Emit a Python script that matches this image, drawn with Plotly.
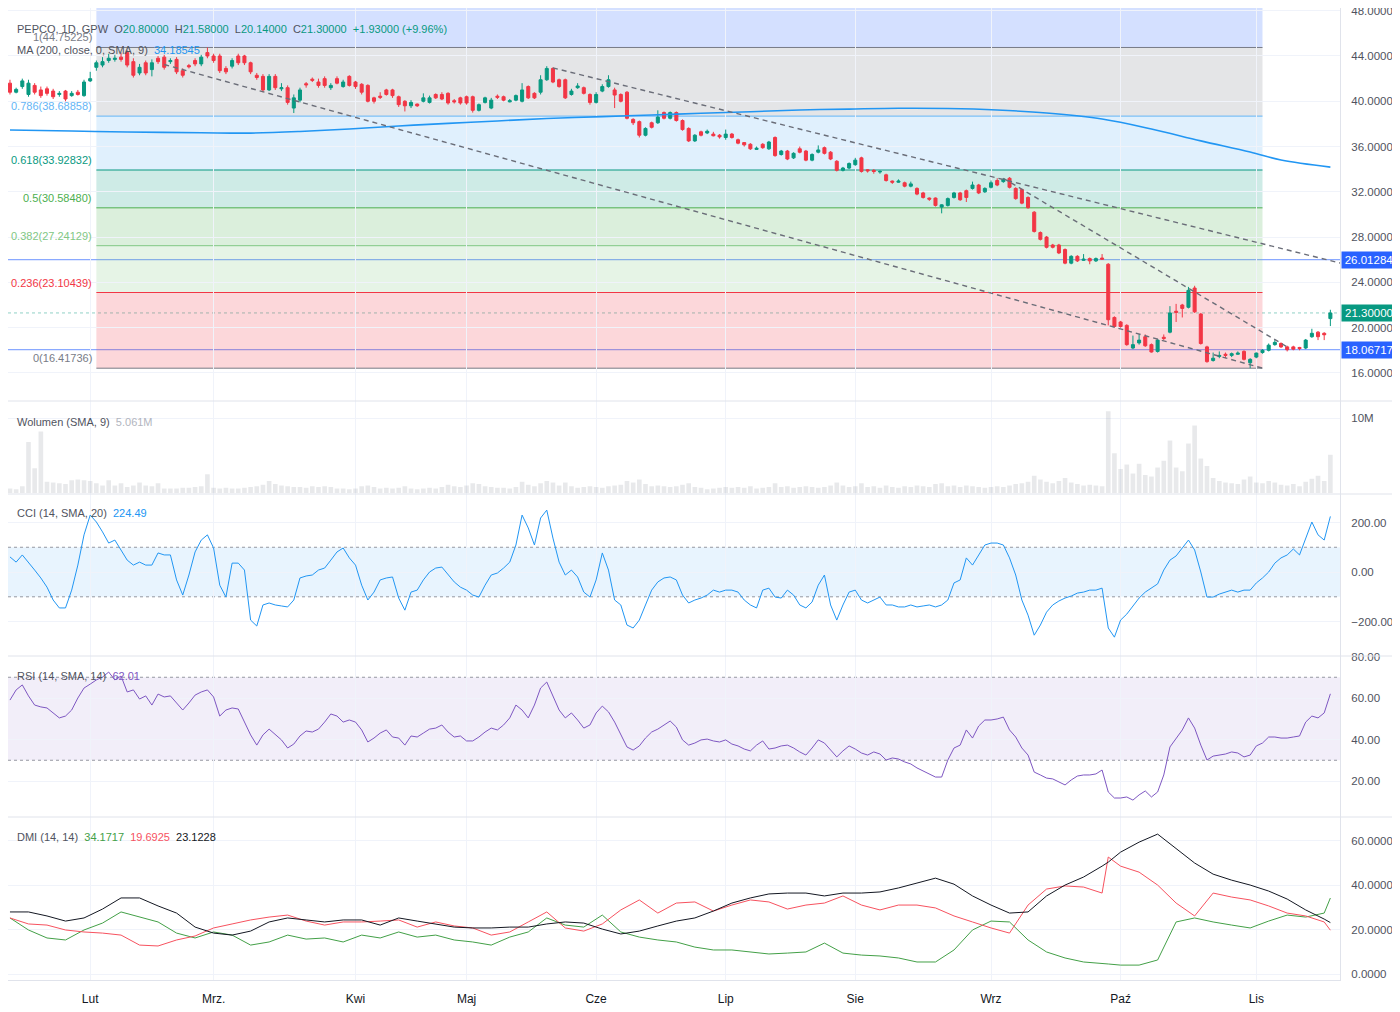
import pandas as pd
import plotly.graph_objects as go
from plotly.subplots import make_subplots

# ---------------- data ----------------
HOLIDAYS = ["2023-04-07", "2023-04-10", "2023-05-01", "2023-05-03",
            "2023-06-08", "2023-08-15", "2023-11-01"]
DATES = [d.strftime("%Y-%m-%d") for d in pd.bdate_range("2023-01-13", "2023-11-20")
         if d.strftime("%Y-%m-%d") not in HOLIDAYS]

MONTH_KEYS = ["2023-02", "2023-03", "2023-04", "2023-05", "2023-06",
              "2023-07", "2023-08", "2023-09", "2023-10", "2023-11"]
MONTH_LABELS = ["Lut", "Mrz.", "Kwi", "Maj", "Cze", "Lip", "Sie", "Wrz", "Paź", "Lis"]

OPEN = [41.6, 40.8, 41.3, 40.6, 41.4, 41.0, 41.1, 40.9, 40.6, 40.9,
        40.5, 40.8, 40.5, 41.8, 43.0, 43.2, 43.6, 43.7, 43.9, 44.3,
        43.5, 42.5, 43.4, 42.8, 43.8, 43.9, 43.5, 43.7, 42.7, 43.15,
        43.6, 43.3, 44.3, 44.0, 44.0, 42.9, 43.1, 44.0, 44.0, 43.4,
        42.3, 42.2, 41.0, 42.2, 41.1, 41.2, 39.4, 40.1, 41.55, 41.95,
        41.7, 42.0, 41.2, 42.0, 41.3, 42.2, 41.7, 41.5, 41.4, 40.3,
        40.45, 41.0, 41.0, 40.4, 40.0, 39.6, 39.75, 40.0, 39.9, 40.6,
        40.6, 40.7, 40.05, 40.3, 40.4, 40.4, 39.2, 39.9, 39.4, 40.45,
        40.4, 39.95, 40.1, 40.0, 41.3, 40.7, 40.8, 41.9, 42.9, 41.9,
        41.9, 40.6, 41.2, 41.2, 40.6, 39.9, 40.9, 41.3, 41.0, 40.6,
        40.8, 38.4, 38.2, 37.0, 38.1, 38.1, 39.0, 38.5, 39.0, 38.3,
        37.6, 36.5, 37.3, 37.2, 37.1, 37.0, 36.8, 37.1, 36.6, 36.35,
        36.2, 35.75, 36.2, 35.8, 36.8, 35.3, 35.6, 35.0, 35.8, 35.6,
        34.8, 35.5, 35.9, 35.5, 34.7, 33.9, 34.1, 34.4, 35.0, 33.95,
        33.9, 33.75, 33.5, 32.95, 32.85, 32.8, 32.5, 32.3, 31.9, 31.45,
        31.45, 30.65, 30.8, 31.5, 31.9, 32.1, 32.3, 32.6, 32.0, 32.4,
        33.0, 32.9, 33.2, 32.3, 32.2, 31.5, 30.2, 28.4, 28.0, 27.3,
        27.3, 26.9, 25.7, 26.3, 25.95, 26.1, 25.9, 26.15, 25.6, 20.9,
        20.5, 20.2, 18.2, 18.65, 19.2, 18.5, 17.9, 19.15, 19.6, 21.45,
        22.0, 21.8, 23.5, 21.2, 18.3, 17.1, 17.45, 17.65, 17.55, 17.65,
        17.9, 16.9, 17.4, 17.8, 18.0, 18.5, 18.6, 18.3, 18.3, 18.25,
        18.2, 19.2, 19.6, 19.5, 20.8]

HIGH = [41.9, 41.2, 42.0, 41.9, 41.6, 41.3, 41.3, 41.1, 40.9, 41.0,
        40.9, 41.0, 41.9, 42.6, 43.6, 43.9, 44.2, 44.1, 44.3, 44.5,
        43.8, 43.3, 43.6, 43.7, 44.0, 44.1, 43.8, 43.9, 42.9, 43.3,
        43.8, 44.1, 44.75, 44.2, 44.2, 43.1, 43.8, 44.2, 44.1, 43.5,
        42.5, 42.4, 42.4, 42.4, 41.6, 41.4, 40.6, 41.2, 41.7, 42.1,
        42.0, 42.2, 41.6, 42.2, 41.9, 42.3, 41.8, 41.6, 41.5, 40.4,
        40.8, 41.1, 41.1, 40.5, 40.1, 40.1, 39.8, 40.7, 40.5, 40.7,
        40.8, 40.8, 40.2, 40.4, 40.5, 40.5, 39.8, 40.4, 40.3, 40.6,
        40.5, 40.2, 40.6, 41.6, 41.4, 40.8, 42.3, 43.1, 43.0, 42.0,
        42.0, 41.1, 41.6, 41.3, 40.7, 40.8, 41.5, 42.3, 41.2, 40.7,
        40.9, 38.5, 38.3, 37.7, 38.2, 39.2, 39.1, 39.1, 39.1, 38.4,
        37.7, 37.1, 37.4, 37.5, 37.3, 37.1, 37.5, 37.2, 36.7, 36.4,
        36.3, 36.0, 36.3, 36.5, 36.9, 35.7, 35.7, 35.5, 36.0, 35.7,
        35.4, 36.1, 36.0, 35.6, 34.8, 34.2, 34.6, 35.0, 35.1, 34.0,
        34.0, 33.9, 33.6, 33.0, 33.1, 32.9, 32.9, 32.4, 32.0, 31.5,
        31.5, 30.9, 31.5, 32.0, 32.0, 32.2, 32.9, 32.7, 32.4, 33.0,
        33.2, 33.2, 33.3, 32.4, 32.3, 31.6, 30.3, 28.5, 28.1, 27.4,
        27.4, 27.0, 26.4, 26.4, 26.5, 26.2, 26.2, 26.5, 25.7, 21.0,
        20.6, 20.3, 19.3, 19.4, 19.4, 18.6, 19.0, 19.4, 21.9, 22.1,
        22.1, 23.6, 23.7, 21.3, 18.4, 17.8, 17.9, 17.8, 17.8, 17.9,
        18.0, 17.3, 17.8, 18.1, 18.6, 18.9, 18.7, 18.4, 18.4, 18.3,
        19.0, 19.9, 19.7, 19.6, 21.58]

LOW = [40.6, 40.7, 41.1, 40.4, 40.6, 40.3, 40.5, 40.2, 40.4, 40.0,
       40.4, 40.5, 40.4, 41.7, 42.7, 43.0, 43.4, 43.5, 43.5, 43.0,
       42.1, 42.3, 42.3, 42.2, 43.3, 42.8, 43.3, 42.4, 42.1, 42.9,
       43.1, 43.1, 43.8, 43.4, 42.5, 42.4, 42.9, 43.2, 43.2, 42.4,
       41.9, 40.8, 40.9, 41.0, 40.9, 39.7, 38.96, 39.9, 41.2, 41.7,
       41.2, 41.2, 41.0, 41.5, 41.2, 41.3, 41.1, 40.6, 39.9, 39.8,
       40.2, 40.5, 40.3, 39.5, 39.1, 39.4, 39.5, 39.9, 39.8, 40.2,
       40.1, 39.7, 39.8, 39.7, 39.7, 39.0, 39.1, 39.8, 39.3, 40.2,
       40.0, 39.9, 40.0, 39.9, 40.2, 40.2, 40.6, 41.8, 41.6, 41.2,
       40.2, 40.5, 41.1, 40.6, 39.7, 39.8, 40.8, 41.2, 39.4, 39.9,
       38.4, 37.9, 36.8, 36.9, 37.6, 38.0, 38.4, 38.4, 38.2, 37.4,
       36.4, 36.4, 36.9, 37.1, 36.9, 36.7, 36.6, 36.7, 36.2, 36.0,
       35.7, 35.7, 35.8, 35.7, 35.1, 35.2, 34.8, 34.9, 35.4, 34.7,
       34.7, 35.4, 35.3, 34.8, 33.8, 33.8, 34.0, 34.3, 33.7, 33.7,
       33.6, 33.6, 32.9, 32.7, 32.8, 32.4, 32.4, 31.7, 31.4, 31.2,
       30.7, 30.1, 30.7, 31.4, 31.2, 31.1, 32.2, 31.8, 31.9, 32.3,
       32.5, 32.8, 32.3, 31.3, 30.9, 30.5, 28.4, 27.7, 27.0, 27.0,
       26.5, 25.6, 25.6, 25.8, 25.9, 25.6, 25.8, 26.0, 20.2, 20.0,
       20.0, 18.4, 18.1, 18.5, 18.3, 17.8, 17.8, 18.9, 19.5, 20.5,
       20.9, 21.7, 21.3, 18.5, 16.9, 17.0, 17.3, 17.3, 17.4, 17.6,
       17.1, 16.42, 17.3, 17.7, 17.9, 18.4, 18.2, 17.9, 18.0, 18.0,
       18.1, 19.1, 18.9, 18.9, 20.14]

CLOSE = [40.8, 41.05, 41.8, 41.6, 40.8, 40.5, 40.7, 40.4, 40.7, 40.2,
         40.7, 40.6, 41.7, 42.0, 43.4, 43.5, 43.8, 43.8, 43.7, 43.2,
         42.3, 43.0, 42.5, 43.4, 43.5, 43.0, 43.6, 42.6, 42.3, 43.05,
         43.3, 43.9, 44.0, 43.6, 42.7, 42.6, 43.6, 43.4, 43.4, 42.6,
         42.1, 41.0, 42.2, 41.2, 41.2, 39.9, 40.3, 41.0, 41.45, 41.85,
         41.4, 41.4, 41.4, 41.6, 41.7, 41.4, 41.3, 40.8, 40.0, 40.0,
         40.35, 40.6, 40.5, 39.7, 39.6, 39.9, 39.6, 40.3, 40.3, 40.3,
         40.2, 39.85, 39.95, 39.85, 39.85, 39.2, 39.7, 40.3, 40.1, 40.35,
         40.1, 40.05, 40.5, 41.0, 40.3, 40.3, 41.9, 42.9, 41.7, 41.3,
         40.3, 40.9, 41.35, 40.7, 39.9, 40.6, 41.3, 41.9, 40.55, 40.0,
         38.5, 38.1, 37.0, 37.6, 37.7, 38.6, 38.5, 39.0, 38.3, 37.5,
         36.5, 37.0, 37.0, 37.35, 36.95, 36.85, 37.1, 36.8, 36.3, 36.15,
         35.8, 35.85, 35.9, 36.4, 35.2, 35.6, 34.9, 35.4, 35.5, 34.8,
         35.3, 35.7, 35.4, 34.9, 33.9, 34.1, 34.5, 34.8, 33.8, 33.85,
         33.8, 33.8, 33.0, 32.85, 32.95, 32.5, 32.7, 31.8, 31.5, 31.35,
         30.8, 30.85, 31.4, 31.9, 31.3, 31.5, 32.6, 31.9, 32.3, 32.8,
         32.6, 33.1, 32.4, 31.4, 31.0, 30.6, 28.5, 27.8, 27.1, 27.1,
         26.6, 25.7, 26.3, 25.9, 26.05, 25.9, 26.1, 26.05, 20.7, 20.1,
         20.1, 18.5, 18.5, 18.9, 18.4, 17.85, 18.9, 19.05, 21.3, 21.35,
         21.7, 23.3, 21.4, 18.6, 17.0, 17.3, 17.55, 17.55, 17.7, 17.75,
         17.2, 17.2, 17.75, 18.0, 18.45, 18.7, 18.3, 18.05, 18.1, 18.15,
         18.9, 19.5, 19.2, 19.37, 21.3]

VOLUME_M = [0.6, 0.5, 0.9, 6.8, 3.3, 8.2, 1.5, 1.4, 1.3, 1.2,
            1.7, 1.8, 1.7, 1.6, 1.3, 1.0, 1.7, 1.0, 1.3, 0.8,
            1.0, 1.4, 1.0, 0.9, 1.3, 0.6, 0.6, 0.6, 0.7, 0.7,
            0.8, 0.9, 2.5, 0.7, 0.6, 0.7, 0.6, 0.6, 0.7, 0.8,
            0.9, 1.1, 1.6, 1.2, 1.0, 0.9, 0.8, 0.8, 0.7, 0.9,
            0.8, 0.9, 0.8, 0.6, 0.6, 0.5, 0.6, 0.9, 1.0, 0.8,
            0.6, 0.7, 0.6, 0.7, 0.9, 0.6, 0.5, 0.6, 0.7, 0.6,
            0.8, 1.1, 0.9, 0.8, 1.0, 1.3, 1.2, 0.9, 0.8, 0.7,
            0.7, 0.6, 0.8, 1.5, 1.1, 0.9, 1.3, 1.6, 1.4, 1.0,
            1.4, 0.9, 0.7, 0.8, 0.9, 0.8, 0.7, 0.9, 1.0, 1.1,
            1.6, 1.4, 1.8, 1.2, 0.9, 1.0, 0.9, 0.8, 0.9, 1.1,
            1.3, 0.8, 0.7, 0.5, 0.6, 0.7, 0.8, 0.7, 0.8, 0.7,
            0.9, 0.6, 0.7, 0.8, 1.3, 0.8, 0.9, 0.7, 0.8, 0.9,
            0.8, 0.7, 0.8, 1.0, 1.4, 1.0, 0.8, 0.9, 1.3, 0.8,
            0.9, 0.7, 1.0, 0.8, 0.7, 0.9, 0.8, 1.0, 0.9, 0.8,
            1.2, 1.3, 0.9, 1.0, 0.8, 1.0, 0.9, 0.8, 0.7, 0.8,
            0.9, 0.8, 1.0, 1.2, 1.3, 1.5, 2.3, 1.8, 1.5, 1.3,
            1.6, 2.0, 1.4, 1.2, 1.0, 1.1, 1.0, 0.9, 10.9, 5.3,
            3.2, 3.8, 2.6, 3.9, 2.4, 2.2, 3.4, 4.3, 7.0, 3.4,
            2.9, 6.6, 9.0, 4.6, 3.6, 2.0, 1.6, 1.4, 1.3, 1.2,
            1.8, 2.2, 1.4, 1.3, 1.6, 1.4, 1.1, 1.0, 1.2, 0.9,
            1.5, 1.9, 2.3, 1.6, 5.1]
VOL_SMA9_LAST_M = 5.061

CCI = [61, 40, 69, 40, 8, -24, -61, -113, -145, -145,
       -73, 28, 150, 230, 202, 162, 117, 129, 89, 48,
       28, 40, 28, 28, 77, 69, 69, -32, -93, -12,
       81, 129, 150, 97, -53, -101, 36, 36, 8, -194,
       -218, -133, -125, -133, -137, -141, -113, -24, -16, -12,
       8, 16, 48, 81, 97, 57, 28, -53, -113, -81,
       -32, -24, -20, -105, -154, -81, -73, -32, 0, 16,
       20, -12, -40, -61, -73, -93, -101, -53, -12, -4,
       16, 40, 109, 230, 178, 109, 218, 250, 137, 40,
       -12, 8, -20, -81, -101, -32, 77, 8, -113, -133,
       -214, -226, -194, -133, -73, -40, -24, -20, -32, -93,
       -125, -113, -105, -93, -73, -81, -73, -73, -81, -113,
       -133, -145, -73, -65, -101, -105, -73, -93, -133, -145,
       -121, -53, -12, -133, -194, -133, -81, -73, -113, -125,
       -113, -101, -133, -133, -141, -141, -133, -141, -137, -133,
       -141, -133, -113, -44, -32, 57, 28, 69, 109, 117,
       117, 109, 57, -12, -113, -174, -255, -214, -162, -133,
       -117, -105, -97, -85, -81, -73, -73, -65, -226, -263,
       -194, -170, -137, -105, -81, -65, -48, 8, 48, 65,
       97, 129, 89, 0, -101, -101, -89, -81, -73, -81,
       -73, -73, -44, -24, 0, 36, 57, 69, 93, 69,
       137, 202, 150, 129, 224.49]

RSI = [59, 63.9, 66.3, 61, 56.6, 55.7, 55.2, 52.8, 50.4, 51.3,
       54.2, 60, 64.8, 66.7, 68.7, 70.1, 72.5, 68.7, 70.6, 62.9,
       63.9, 59.5, 61, 56.6, 61.9, 60.5, 61, 57.6, 54.2, 57.6,
       61.4, 62.9, 63.9, 60.5, 51.3, 54.2, 55.2, 54.7, 48.4, 42.2,
       37.3, 42.2, 45, 42.2, 39.8, 35.9, 37.8, 41.7, 44.1, 43.6,
       45, 48.4, 52.3, 51.3, 48.4, 49.4, 48.4, 44.6, 38.8, 40.7,
       43.1, 44.6, 41.2, 40.7, 37.3, 41.7, 41.2, 43.1, 45, 45.5,
       47, 43.6, 41.2, 41.7, 39.3, 39.3, 41.2, 43.6, 45.5, 44.6,
       47, 50.4, 56.6, 54.2, 50.4, 56.6, 64.8, 67.7, 60.5, 54.2,
       50.4, 52.8, 49.4, 45.5, 47, 52.8, 56.1, 53.3, 48.4, 42.2,
       36.4, 34.9, 36.9, 40.7, 43.6, 45, 47, 48.9, 46, 39.8,
       37.3, 38.3, 39.8, 40.2, 39.3, 38.8, 39.8, 37.8, 36.9, 35.4,
       34.5, 37.3, 39.3, 35.4, 35.9, 36.9, 37.3, 35.9, 34, 32.5,
       35.9, 39.8, 38.3, 34.9, 31.6, 34.5, 36.9, 35.4, 33.5, 32.5,
       34, 33, 30.1, 31.1, 30.6, 29.2, 28.2, 26.3, 24.8, 23.4,
       21.9, 21.9, 30.1, 35.9, 37.3, 44.6, 40.7, 46.5, 49.4, 49.4,
       49.9, 50.8, 44.6, 41.2, 35.9, 32.5, 24.3, 22.9, 21.4, 21,
       19.5, 18.1, 20.5, 22.4, 22.9, 22.9, 23.4, 25.3, 14.7, 11.8,
       11.8, 12.3, 10.8, 13.3, 15.2, 12.3, 14.7, 22.9, 36.4, 40.7,
       44.6, 50.4, 45.5, 37.3, 30.1, 32, 32.5, 33, 34, 33.5,
       31.6, 32.5, 36.9, 38.3, 41.2, 41.2, 40.7, 40.7, 41.2, 41.7,
       48.4, 51.3, 50.4, 52.8, 62.01]

MA_IDX = [0, 10, 19, 31, 39, 47, 55, 63, 71, 79, 87, 96, 104, 112, 120, 128,
          136, 144, 152, 160, 168, 177, 185, 193, 201, 206, 214]
MA_VAL = [37.46, 37.37, 37.29, 37.22, 37.19, 37.33, 37.55, 37.82, 38.05, 38.26,
          38.48, 38.64, 38.79, 38.94, 39.08, 39.23, 39.31, 39.38, 39.36, 39.23,
          38.96, 38.43, 37.55, 36.5, 35.52, 34.81, 34.18545]

DMI_IDX = [0, 3, 6, 9, 12, 15, 18, 21, 24, 27, 30, 33, 36, 39, 42, 45, 48, 51,
           54, 57, 60, 63, 66, 69, 72, 75, 78, 81, 84, 87, 90, 93, 96, 99, 102,
           105, 108, 111, 114, 117, 120, 123, 126, 129, 132, 135, 138, 141, 144,
           147, 150, 153, 156, 159, 162, 165, 168, 171, 174, 177, 178, 180, 183,
           186, 189, 192, 195, 198, 201, 204, 207, 210, 213, 214]
ADX = [27.9, 27.9, 26.1, 23.8, 25.2, 29.2, 34.2, 34.2, 30.6, 27.4, 21.1, 18.4,
       17.5, 19.3, 23.4, 25.2, 24.3, 23.4, 24.3, 24.3, 22, 25.2, 23.8, 22.5,
       21.1, 20.7, 20.7, 21.1, 21.1, 22.5, 23.4, 22.9, 20.2, 18, 19.3, 21.6,
       23.8, 25.2, 28.3, 31.9, 34.2, 36, 36.4, 36.4, 35.1, 36.4, 36.4, 36.9,
       38.7, 40.9, 43.1, 40.4, 35.1, 31, 27.4, 27.9, 35.1, 40, 43.6, 48.5,
       50.3, 54.8, 59.3, 62.9, 56.6, 49.9, 44.9, 42.2, 40, 37.3, 33.7, 28.8,
       24.7, 23.1228]
MINUS_DI = [25.2, 22.5, 22, 19.8, 18.9, 18.4, 17.5, 13, 12.6, 15.3, 17.1, 20.7,
            22.5, 24.3, 25.6, 26.5, 23.8, 22, 23.4, 23.4, 23.8, 24.3, 21.1, 23.4,
            21.6, 20.7, 17.5, 18.9, 23.4, 27.9, 20.7, 19.3, 22.5, 28.8, 33.3, 27.4,
            31.9, 32.4, 28.3, 31, 33.3, 32.4, 29.2, 31, 31.9, 35.1, 31, 28.8,
            31, 31, 29.7, 26.1, 23.4, 20.7, 18.4, 31, 38.2, 39.6, 39.1, 36.4,
            52.6, 48.5, 45.8, 40, 31.9, 26.1, 36.4, 34.6, 33.3, 30.6, 27.4, 26.1,
            23.4, 19.6925]
PLUS_DI = [25.2, 19.8, 16.2, 15.3, 19.8, 22.9, 27.9, 25.6, 23.4, 18.4, 16.2, 18.9,
           17.5, 13, 14.4, 17.5, 15.7, 16.2, 14.4, 17.5, 16.2, 18.9, 16.6, 17.5,
           15.3, 14.4, 13, 16.6, 18.9, 25.2, 22, 21.1, 26.5, 18.9, 16.6, 15.3,
           14.4, 12.1, 10.8, 10.8, 9.9, 9, 9.4, 9.9, 13.9, 9.4, 8.5, 8.1,
           7.2, 5.4, 5.4, 10.8, 19.8, 23.8, 23.4, 15.3, 9.9, 7.2, 5.4, 4.9,
           4.5, 4, 4, 6.3, 23.4, 25.2, 23.4, 22, 20.7, 23.8, 26.5, 25.6,
           27.4, 34.1717]

FIB_RATIOS = [1.618, 1, 0.786, 0.618, 0.5, 0.382, 0.236, 0]
FIB_PRICES = [62.26300, 44.75225, 38.68858, 33.92832, 30.58480, 27.24129, 23.10439, 16.41736]
FIB_COLORS = ["#2962ff", "#787b86", "#64b5f6", "#089981", "#4caf50", "#81c784", "#f23645", "#787b86"]
FIB_START, FIB_END = "2023-02-02", "2023-11-03"

HLINES = [26.01284, 18.06717]
# trend lines: (start date, start price, end date, end price, extend right)
TRENDLINES = [("2023-02-17", 43.25, "2023-11-03", 16.42, False),
              ("2023-05-23", 42.95, "2023-09-04", 33.22, True),
              ("2023-09-05", 33.20, "2023-11-09", 18.30, False)]

# ---------------- styling ----------------
UP, DN = "#089981", "#f23645"
FONT = "Liberation Sans, Arial, sans-serif"
TXT = "#50535e"
GRID = "#f0f3fa"
SEP = "#e0e3eb"
XR = [-0.32, 215.56]
idx = {d: i for i, d in enumerate(DATES)}

fig = make_subplots(rows=5, cols=1, shared_xaxes=True, vertical_spacing=0,
                    row_heights=[393, 93, 162, 161, 163])

fig.add_trace(go.Candlestick(
    x=DATES, open=OPEN, high=HIGH, low=LOW, close=CLOSE,
    increasing=dict(line=dict(color=UP, width=1), fillcolor=UP),
    decreasing=dict(line=dict(color=DN, width=1), fillcolor=DN),
    whiskerwidth=0, showlegend=False, hoverinfo="skip"), row=1, col=1)

fig.add_trace(go.Scatter(x=[DATES[i] for i in MA_IDX], y=MA_VAL, mode="lines",
                         line=dict(color="#2196f3", width=1.6, shape="spline"),
                         showlegend=False, hoverinfo="skip"), row=1, col=1)

fig.add_trace(go.Bar(x=DATES, y=[v * 1e6 for v in VOLUME_M],
                     marker=dict(color="rgba(120,123,134,0.17)", line=dict(width=0)),
                     showlegend=False, hoverinfo="skip"), row=2, col=1)

fig.add_trace(go.Scatter(x=DATES, y=CCI, mode="lines", line=dict(color="#2196f3", width=1),
                         showlegend=False, hoverinfo="skip"), row=3, col=1)
fig.add_trace(go.Scatter(x=DATES, y=RSI, mode="lines", line=dict(color="#7e57c2", width=1),
                         showlegend=False, hoverinfo="skip"), row=4, col=1)

dmi_x = [DATES[i] for i in DMI_IDX]
fig.add_trace(go.Scatter(x=dmi_x, y=PLUS_DI, mode="lines", line=dict(color="#43a047", width=1),
                         showlegend=False, hoverinfo="skip"), row=5, col=1)
fig.add_trace(go.Scatter(x=dmi_x, y=MINUS_DI, mode="lines", line=dict(color="#f7525f", width=1),
                         showlegend=False, hoverinfo="skip"), row=5, col=1)
fig.add_trace(go.Scatter(x=dmi_x, y=ADX, mode="lines", line=dict(color="#131722", width=1),
                         showlegend=False, hoverinfo="skip"), row=5, col=1)

shapes = []
annotations = []


def hexa(h, a):
    h = h.lstrip("#")
    return "rgba(%d,%d,%d,%s)" % (int(h[0:2], 16), int(h[2:4], 16), int(h[4:6], 16), a)


# Fibonacci zones and lines
f0, f1 = idx[FIB_START], idx[FIB_END]
for k in range(len(FIB_PRICES) - 1):
    shapes.append(dict(type="rect", xref="x", yref="y", x0=f0, x1=f1,
                       y0=FIB_PRICES[k + 1], y1=FIB_PRICES[k],
                       fillcolor=hexa(FIB_COLORS[k], 0.2), line=dict(width=0), layer="below"))
for k in range(1, len(FIB_PRICES)):
    shapes.append(dict(type="line", xref="x", yref="y", x0=f0, x1=f1,
                       y0=FIB_PRICES[k], y1=FIB_PRICES[k],
                       line=dict(color=FIB_COLORS[k], width=1), layer="below"))
    r = FIB_RATIOS[k]
    lab = ("%g" % r) if r not in (0, 1) else ("%d" % r)
    annotations.append(dict(xref="paper", yref="y", x=0.0645, y=FIB_PRICES[k], yshift=10,
                            xanchor="right", yanchor="middle", showarrow=False,
                            text="%s(%.5f)" % (lab, FIB_PRICES[k]),
                            font=dict(family=FONT, size=11, color=FIB_COLORS[k])))

# horizontal lines
for h in HLINES:
    shapes.append(dict(type="line", xref="paper", yref="y", x0=0, x1=1, y0=h, y1=h,
                       line=dict(color="rgba(41,98,255,0.55)", width=1.2), layer="below"))
shapes.append(dict(type="line", xref="paper", yref="y", x0=0, x1=1, y0=CLOSE[-1], y1=CLOSE[-1],
                   line=dict(color="rgba(8,153,129,0.45)", width=1, dash="dot"), layer="below"))

# trend lines
for (d0, p0, d1, p1, ext) in TRENDLINES:
    i0, i1 = idx[d0], idx[d1]
    if ext:
        slope = (p1 - p0) / (i1 - i0)
        p1 = p0 + slope * (XR[1] - i0)
        i1 = XR[1]
    shapes.append(dict(type="line", xref="x", yref="y", x0=i0, x1=i1, y0=p0, y1=p1,
                       line=dict(color="#6a6d78", width=1.4, dash="5px,4px"), layer="above"))

# CCI band
shapes.append(dict(type="rect", xref="paper", yref="y3", x0=0, x1=1, y0=-100, y1=100,
                   fillcolor="rgba(33,150,243,0.1)", line=dict(width=0), layer="below"))
for v in (100, -100):
    shapes.append(dict(type="line", xref="paper", yref="y3", x0=0, x1=1, y0=v, y1=v,
                       line=dict(color="#9598a1", width=1, dash="3px,3px"), layer="below"))
# RSI band
shapes.append(dict(type="rect", xref="paper", yref="y4", x0=0, x1=1, y0=30, y1=70,
                   fillcolor="rgba(126,87,194,0.1)", line=dict(width=0), layer="below"))
for v in (70, 30):
    shapes.append(dict(type="line", xref="paper", yref="y4", x0=0, x1=1, y0=v, y1=v,
                       line=dict(color="#9598a1", width=1, dash="3px,3px"), layer="below"))

# panel separators
for yb in (1 - 393 / 972, 1 - 486 / 972, 1 - 648 / 972, 1 - 809 / 972):
    shapes.append(dict(type="line", xref="paper", yref="paper", x0=0, x1=1.046, y0=yb, y1=yb,
                       line=dict(color=SEP, width=1), layer="above"))

# price tags on right axis
for val, col in ((HLINES[0], "#2962ff"), (CLOSE[-1], "#089981"), (HLINES[1], "#2962ff")):
    annotations.append(dict(xref="paper", yref="y", x=1.0, xshift=1, y=val, xanchor="left",
                            yanchor="middle", showarrow=False, text="%.5f" % val,
                            bgcolor=col, borderpad=2, width=50,
                            font=dict(family=FONT, size=11.5, color="white")))


def seg(t, c):
    return "<span style='color:%s'>%s</span>" % (c, t)


sp = "\u00a0\u00a0"
chg = CLOSE[-1] - CLOSE[-2]
teal = "#089981"
hdr1 = (seg("PEPCO, 1D, GPW", TXT) + sp + seg("O", TXT) + seg("%.5f" % OPEN[-1], teal) + sp +
        seg("H", TXT) + seg("%.5f" % HIGH[-1], teal) + sp + seg("L", TXT) + seg("%.5f" % LOW[-1], teal) +
        sp + seg("C", TXT) + seg("%.5f" % CLOSE[-1], teal) + sp +
        seg("%+.5f (%+.2f%%)" % (chg, chg / CLOSE[-2] * 100), teal))
hdr2 = seg("MA (200, close, 0, SMA, 9)", TXT) + sp + seg("%.5f" % MA_VAL[-1], "#2196f3")
vol_l = seg("Wolumen (SMA, 9)", TXT) + sp + seg("%.3fM" % VOL_SMA9_LAST_M, "#b2b5be")
cci_l = seg("CCI (14, SMA, 20)", TXT) + sp + seg("%.2f" % CCI[-1], "#2196f3")
rsi_l = seg("RSI (14, SMA, 14)", TXT) + sp + seg("%.2f" % RSI[-1], "#7e57c2")
dmi_l = (seg("DMI (14, 14)", TXT) + sp + seg("%.4f" % PLUS_DI[-1], "#43a047") + sp +
         seg("%.4f" % MINUS_DI[-1], "#f7525f") + sp + seg("%.4f" % ADX[-1], "#131722"))
for text, ypx in ((hdr1, 29), (hdr2, 50), (vol_l, 422), (cci_l, 513), (rsi_l, 676), (dmi_l, 837)):
    annotations.append(dict(xref="paper", yref="paper", x=0.0053, y=(980 - ypx) / 972,
                            xanchor="left", yanchor="middle", showarrow=False, text=text,
                            font=dict(family=FONT, size=11, color=TXT)))

month_ticks = [next(d for d in DATES if d.startswith(k)) for k in MONTH_KEYS]

# the page body adds an 8px offset, so the figure is 8px smaller on each axis
fig.update_layout(
    width=1392, height=1004, margin=dict(l=0, r=60, t=0, b=32, autoexpand=False),
    paper_bgcolor="white", plot_bgcolor="white", showlegend=False,
    shapes=shapes, annotations=annotations, bargap=0.25, hovermode=False,
    font=dict(family=FONT, size=12, color=TXT))

fig.update_xaxes(type="category", categoryorder="array", categoryarray=DATES, range=XR,
                 tickvals=month_ticks, ticktext=MONTH_LABELS, showgrid=True, gridcolor=GRID,
                 zeroline=False, ticks="", rangeslider=dict(visible=False), showline=False,
                 automargin=False,
                 tickfont=dict(family=FONT, size=12, color="#131722"), ticklabelstandoff=8)
fig.update_xaxes(showline=True, linecolor=SEP, row=5, col=1)

yc = dict(side="right", showgrid=True, gridcolor=GRID, zeroline=False, ticks="",
          showline=True, linecolor=SEP, ticklabelstandoff=8, automargin=False,
          ticklabeloverflow="allow",
          tickfont=dict(family=FONT, size=11.5, color=TXT))
fig.update_yaxes(range=[13.52, 48.24], tickvals=list(range(16, 49, 4)), tickformat=".5f",
                 row=1, col=1, **yc)
fig.update_yaxes(range=[-0.13e6, 12.27e6], tickvals=[10e6], ticktext=["10M"], row=2, col=1, **yc)
fig.update_yaxes(range=[-339, 315], tickvals=[-200, 0, 200], tickformat=".2f", row=3, col=1, **yc)
fig.update_yaxes(range=[2.65, 80.24], tickvals=[20, 40, 60, 80], tickformat=".2f", row=4, col=1, **yc)
fig.update_yaxes(range=[-2.7, 70.6], tickvals=[0, 20, 40, 60], tickformat=".4f", row=5, col=1, **yc)

fig.write_html("out.html")
